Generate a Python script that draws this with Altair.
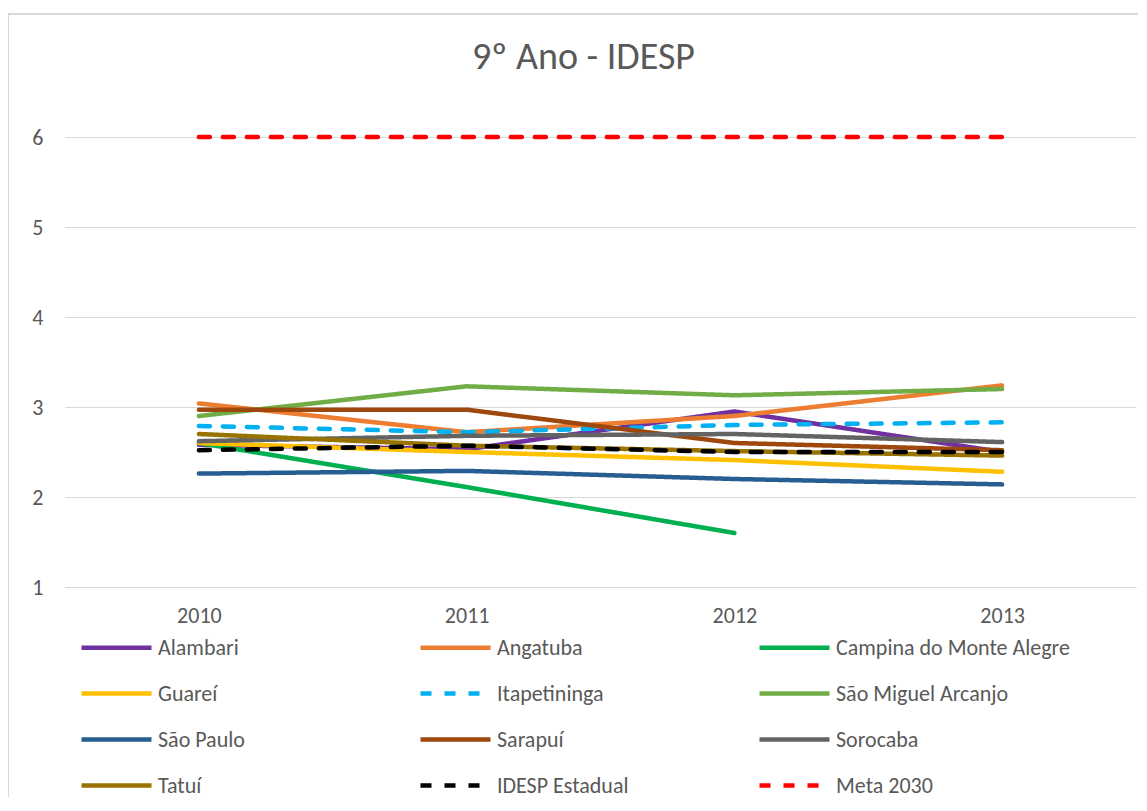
import altair as alt
import pandas as pd

years = ["2010", "2011", "2012", "2013"]
series = ["Alambari", "Angatuba", "Campina do Monte Alegre", "Guareí", "Itapetininga",
          "São Miguel Arcanjo", "São Paulo", "Sarapuí", "Sorocaba", "Tatuí",
          "IDESP Estadual", "Meta 2030"]
alambari = [2.58, 2.53, 2.95, 2.50]
angatuba = [3.04, 2.72, 2.90, 3.24]
campina = [2.60, 2.11, 1.60, None]
guarei = [2.60, 2.50, 2.41, 2.28]
itapetininga = [2.79, 2.72, 2.80, 2.83]
sao_miguel = [2.90, 3.23, 3.13, 3.20]
sao_paulo = [2.26, 2.29, 2.20, 2.14]
sarapui = [2.97, 2.97, 2.60, 2.52]
sorocaba = [2.62, 2.68, 2.70, 2.61]
tatui = [2.70, 2.57, 2.51, 2.46]
idesp_estadual = [2.52, 2.57, 2.50, 2.50]
meta_2030 = [6, 6, 6, 6]

values = [alambari, angatuba, campina, guarei, itapetininga, sao_miguel,
          sao_paulo, sarapui, sorocaba, tatui, idesp_estadual, meta_2030]
colors = ["#7030A0", "#ED7D31", "#00B050", "#FFC000", "#00B0F0", "#70AD47",
          "#275E91", "#9E480E", "#636363", "#997300", "#000000", "#FF0000"]
solid = [1, 0]
dash = [11, 13]
dashes = [solid, solid, solid, solid, dash, solid, solid, solid, solid, solid, dash, dash]

rows = []
for si, (name, vals) in enumerate(zip(series, values)):
    for y, v in zip(years, vals):
        if v is not None:
            rows.append({"Ano": y, "Série": name, "Valor": v, "ordem": si})
df = pd.DataFrame(rows)

FONT = "Carlito, Lato, sans-serif"
TXT = "#595959"

lines = alt.Chart(df).mark_line(strokeWidth=4.5, strokeCap="round", strokeJoin="round").encode(
    x=alt.X("Ano:O", scale=alt.Scale(type="point", padding=0.5),
            axis=alt.Axis(title=None, labelAngle=0, ticks=False, domain=True,
                          domainColor="#d9d9d9", labelPadding=18, grid=False)),
    y=alt.Y("Valor:Q", scale=alt.Scale(domain=[1, 6], nice=False, zero=False),
            axis=alt.Axis(title=None, values=[1, 2, 3, 4, 5, 6], tickCount=6, ticks=False,
                          domain=False, grid=True, gridColor="#d9d9d9", labelPadding=22)),
    color=alt.Color("Série:N", scale=alt.Scale(domain=series, range=colors), title=None),
    strokeDash=alt.StrokeDash("Série:N", scale=alt.Scale(domain=series, range=dashes), title=None),
    order=alt.Order("ordem:Q"),
)

frame = alt.Chart(df).mark_rect(fillOpacity=0, stroke="#d9d9d9", strokeWidth=1.5).encode(
    x=alt.value(-57), x2=alt.value(1200), y=alt.value(-123), y2=alt.value(800)
)

chart = alt.layer(frame, lines).properties(
    width=1071, height=450,
    title=alt.TitleParams("9º Ano - IDESP", fontSize=38, font=FONT, color=TXT,
                          fontWeight="normal", anchor="middle", offset=-64, dx=-17),
    autosize=alt.AutoSizeParams(type="none"),
    padding={"left": 57, "top": 129, "right": 2, "bottom": 210},
).configure_view(stroke=None).configure_axis(
    labelFont=FONT, labelFontSize=22, labelColor=TXT,
).configure_legend(
    orient="none", legendX=14, legendY=498, direction="horizontal", columns=3,
    gridAlign="all", columnPadding=19, rowPadding=22, padding=0,
    symbolType="M-1,0H6", symbolSize=400, symbolStrokeWidth=4.5,
    labelFont=FONT, labelFontSize=22, labelColor=TXT, labelOffset=54, labelLimit=400,
)

chart.save("out.html", embed_options={"renderer": "svg", "actions": False})
